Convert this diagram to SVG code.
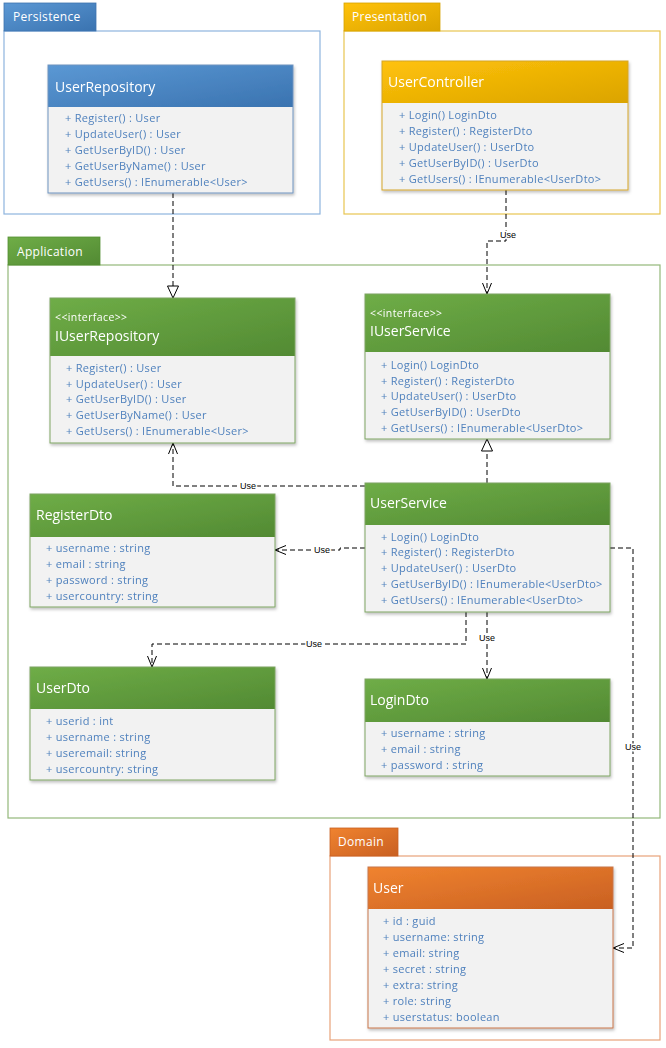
<svg xmlns="http://www.w3.org/2000/svg" width="666" height="1048" viewBox="0 0 666 1048">
<defs>
<style>
.pkgtxt{font-family:"Open Sans","Noto Sans",sans-serif;font-size:12px;letter-spacing:0.3px;fill:#ffffff}
.title{font-family:"Open Sans","Noto Sans",sans-serif;font-size:14px;fill:#ffffff}
.stereo{font-family:"Open Sans","Noto Sans",sans-serif;font-size:10.5px;letter-spacing:0.4px;fill:#ffffff}
.item{font-family:"Open Sans","Noto Sans",sans-serif;font-size:11px;letter-spacing:0.3px;fill:#4f81bd}
.body{fill:#f2f2f2}
.conn{fill:none;stroke:#000000;stroke-width:1;stroke-dasharray:5,3}
.lbl{font-family:"Liberation Sans",Arial,sans-serif;font-size:9px;fill:#000000;text-anchor:middle;stroke:#ffffff;stroke-width:3px;paint-order:stroke;stroke-linejoin:round}
</style>
<linearGradient id="gBlue" x1="0" y1="0" x2="1" y2="1"><stop offset="0" stop-color="#5b98d4"/><stop offset="1" stop-color="#3a73b0"/></linearGradient>
<linearGradient id="gGold" x1="0" y1="0" x2="1" y2="1"><stop offset="0" stop-color="#ffc20a"/><stop offset="1" stop-color="#dba400"/></linearGradient>
<linearGradient id="gGreen" x1="0" y1="0" x2="1" y2="1"><stop offset="0" stop-color="#6fad47"/><stop offset="1" stop-color="#528a33"/></linearGradient>
<linearGradient id="gOrange" x1="0" y1="0" x2="1" y2="1"><stop offset="0" stop-color="#f0832f"/><stop offset="1" stop-color="#c96022"/></linearGradient>
<filter id="sh" x="-5%" y="-5%" width="115%" height="120%"><feDropShadow dx="1" dy="2" stdDeviation="1.5" flood-color="#000000" flood-opacity="0.25"/></filter>
<marker id="open" markerUnits="userSpaceOnUse" markerWidth="12" markerHeight="10" refX="11" refY="5" orient="auto" overflow="visible"><path d="M0,0.5 L11,5 L0,9.5" fill="none" stroke="#000000" stroke-width="1"/></marker>
<marker id="tri" markerUnits="userSpaceOnUse" markerWidth="14" markerHeight="12" refX="12" refY="5.5" orient="auto" overflow="visible"><path d="M0,0 L12,5.5 L0,11 Z" fill="#ffffff" stroke="#000000" stroke-width="1"/></marker>
</defs>
<rect width="666" height="1048" fill="#ffffff"/>

<g id="pkg-persistence">
<rect x="4" y="31" width="316" height="183" fill="#ffffff" stroke="#8eb4de" stroke-width="1.2"/>
<rect x="4" y="3" width="92" height="28" fill="url(#gBlue)" stroke="#3f74ae" stroke-width="0.8"/>
<text class="pkgtxt" x="13" y="21">Persistence</text>
</g>
<g id="pkg-presentation">
<rect x="344" y="31" width="316" height="183" fill="#ffffff" stroke="#e8c550" stroke-width="1.2"/>
<rect x="344" y="3" width="96" height="28" fill="url(#gGold)" stroke="#d7a300" stroke-width="0.8"/>
<text class="pkgtxt" x="352" y="21">Presentation</text>
</g>
<g id="pkg-application">
<rect x="8" y="265" width="652" height="553" fill="#ffffff" stroke="#93b87a" stroke-width="1.2"/>
<rect x="8" y="237" width="92" height="28" fill="url(#gGreen)" stroke="#548f32" stroke-width="0.8"/>
<text class="pkgtxt" x="17" y="256">Application</text>
</g>
<g id="pkg-domain">
<rect x="330" y="856" width="330" height="184" fill="#ffffff" stroke="#e8a27a" stroke-width="1.2"/>
<rect x="330" y="828" width="68" height="28" fill="url(#gOrange)" stroke="#c96022" stroke-width="0.8"/>
<text class="pkgtxt" x="338" y="846">Domain</text>
</g>

<g id="connectors">
<path id="c1" class="conn" d="M173,193 V298" marker-end="url(#tri)"/>
<path id="c2" class="conn" d="M506,190 V241 H487 V294" marker-end="url(#open)"/>
<text class="lbl" x="508" y="238">Use</text>
<path id="c3" class="conn" d="M487,483 V439" marker-end="url(#tri)"/>
<path id="c4" class="conn" d="M365,486 H173 V443" marker-end="url(#open)"/>
<text class="lbl" x="248" y="489">Use</text>
<path id="c5" class="conn" d="M365,548 H340 V550 H275" marker-end="url(#open)"/>
<text class="lbl" x="322" y="553">Use</text>
<path id="c6" class="conn" d="M466,612 V644 H152 V667" marker-end="url(#open)"/>
<text class="lbl" x="314" y="647">Use</text>
<path id="c7" class="conn" d="M487,612 V679" marker-end="url(#open)"/>
<text class="lbl" x="487" y="641">Use</text>
<path id="c8" class="conn" d="M610,548 H633 V948 H613" marker-end="url(#open)"/>
<text class="lbl" x="633" y="750">Use</text>
</g>

<g id="UserRepository" filter="url(#sh)">
<rect x="48" y="65" width="245" height="42" fill="url(#gBlue)"/>
<rect class="body" x="48" y="107" width="245" height="86"/>
<rect x="48" y="65" width="245" height="128" fill="none" stroke="#6f93bf" stroke-width="1"/>
<text class="title" x="55" y="92">UserRepository</text>
<text class="item" x="65" y="121.5">+ Register() : User</text>
<text class="item" x="65" y="137.5">+ UpdateUser() : User</text>
<text class="item" x="65" y="153.5">+ GetUserByID() : User</text>
<text class="item" x="65" y="169.5">+ GetUserByName() : User</text>
<text class="item" x="65" y="185.5">+ GetUsers() : IEnumerable&lt;User&gt;</text>
</g>

<g id="UserController" filter="url(#sh)">
<rect x="382" y="61" width="246" height="42" fill="url(#gGold)"/>
<rect class="body" x="382" y="103" width="246" height="87"/>
<rect x="382" y="61" width="246" height="129" fill="none" stroke="#d4a52a" stroke-width="1"/>
<text class="title" x="388" y="87">UserController</text>
<text class="item" x="399" y="118.5">+ Login() LoginDto</text>
<text class="item" x="399" y="134.5">+ Register() : RegisterDto</text>
<text class="item" x="399" y="150.5">+ UpdateUser() : UserDto</text>
<text class="item" x="399" y="166.5">+ GetUserByID() : UserDto</text>
<text class="item" x="399" y="182.5">+ GetUsers() : IEnumerable&lt;UserDto&gt;</text>
</g>

<g id="IUserRepository" filter="url(#sh)">
<rect x="50" y="298" width="245" height="58" fill="url(#gGreen)"/>
<rect class="body" x="50" y="356" width="245" height="87"/>
<rect x="50" y="298" width="245" height="145" fill="none" stroke="#7ea463" stroke-width="1"/>
<text class="stereo" x="55" y="320.5">&lt;&lt;interface&gt;&gt;</text>
<text class="title" x="55" y="341">IUserRepository</text>
<text class="item" x="66" y="371.5">+ Register() : User</text>
<text class="item" x="66" y="387.5">+ UpdateUser() : User</text>
<text class="item" x="66" y="403">+ GetUserByID() : User</text>
<text class="item" x="66" y="418.5">+ GetUserByName() : User</text>
<text class="item" x="66" y="434.5">+ GetUsers() : IEnumerable&lt;User&gt;</text>
</g>

<g id="IUserService" filter="url(#sh)">
<rect x="365" y="294" width="245" height="58" fill="url(#gGreen)"/>
<rect class="body" x="365" y="352" width="245" height="87"/>
<rect x="365" y="294" width="245" height="145" fill="none" stroke="#7ea463" stroke-width="1"/>
<text class="stereo" x="370" y="316.5">&lt;&lt;interface&gt;&gt;</text>
<text class="title" x="370" y="336">IUserService</text>
<text class="item" x="381" y="368.5">+ Login() LoginDto</text>
<text class="item" x="381" y="384.5">+ Register() : RegisterDto</text>
<text class="item" x="381" y="400">+ UpdateUser() : UserDto</text>
<text class="item" x="381" y="416">+ GetUserByID() : UserDto</text>
<text class="item" x="381" y="431.5">+ GetUsers() : IEnumerable&lt;UserDto&gt;</text>
</g>

<g id="UserService" filter="url(#sh)">
<rect x="365" y="483" width="245" height="42" fill="url(#gGreen)"/>
<rect class="body" x="365" y="525" width="245" height="87"/>
<rect x="365" y="483" width="245" height="129" fill="none" stroke="#7ea463" stroke-width="1"/>
<text class="title" x="370" y="508">UserService</text>
<text class="item" x="381" y="540.5">+ Login() LoginDto</text>
<text class="item" x="381" y="556">+ Register() : RegisterDto</text>
<text class="item" x="381" y="571.5">+ UpdateUser() : UserDto</text>
<text class="item" x="381" y="587.5">+ GetUserByID() : IEnumerable&lt;UserDto&gt;</text>
<text class="item" x="381" y="603.5">+ GetUsers() : IEnumerable&lt;UserDto&gt;</text>
</g>

<g id="RegisterDto" filter="url(#sh)">
<rect x="30" y="494" width="245" height="43" fill="url(#gGreen)"/>
<rect class="body" x="30" y="537" width="245" height="70"/>
<rect x="30" y="494" width="245" height="113" fill="none" stroke="#7ea463" stroke-width="1"/>
<text class="title" x="36" y="520">RegisterDto</text>
<text class="item" x="46" y="551.5">+ username : string</text>
<text class="item" x="46" y="567.5">+ email : string</text>
<text class="item" x="46" y="583.5">+ password : string</text>
<text class="item" x="46" y="599.5">+ usercountry: string</text>
</g>

<g id="UserDto" filter="url(#sh)">
<rect x="30" y="667" width="245" height="42" fill="url(#gGreen)"/>
<rect class="body" x="30" y="709" width="245" height="71"/>
<rect x="30" y="667" width="245" height="113" fill="none" stroke="#7ea463" stroke-width="1"/>
<text class="title" x="36" y="693">UserDto</text>
<text class="item" x="46" y="724.5">+ userid : int</text>
<text class="item" x="46" y="740.5">+ username : string</text>
<text class="item" x="46" y="756.5">+ useremail: string</text>
<text class="item" x="46" y="772.5">+ usercountry: string</text>
</g>

<g id="LoginDto" filter="url(#sh)">
<rect x="365" y="679" width="245" height="43" fill="url(#gGreen)"/>
<rect class="body" x="365" y="722" width="245" height="54"/>
<rect x="365" y="679" width="245" height="97" fill="none" stroke="#7ea463" stroke-width="1"/>
<text class="title" x="370" y="705">LoginDto</text>
<text class="item" x="381" y="736.5">+ username : string</text>
<text class="item" x="381" y="752.5">+ email : string</text>
<text class="item" x="381" y="768.5">+ password : string</text>
</g>

<g id="User" filter="url(#sh)">
<rect x="368" y="867" width="245" height="42" fill="url(#gOrange)"/>
<rect class="body" x="368" y="909" width="245" height="119"/>
<rect x="368" y="867" width="245" height="161" fill="none" stroke="#c8764a" stroke-width="1"/>
<text class="title" x="373" y="893">User</text>
<text class="item" x="383" y="924.5">+ id : guid</text>
<text class="item" x="383" y="940.5">+ username: string</text>
<text class="item" x="383" y="956.5">+ email: string</text>
<text class="item" x="383" y="972.5">+ secret : string</text>
<text class="item" x="383" y="988.5">+ extra: string</text>
<text class="item" x="383" y="1004.5">+ role: string</text>
<text class="item" x="383" y="1020.5">+ userstatus: boolean</text>
</g>
</svg>
